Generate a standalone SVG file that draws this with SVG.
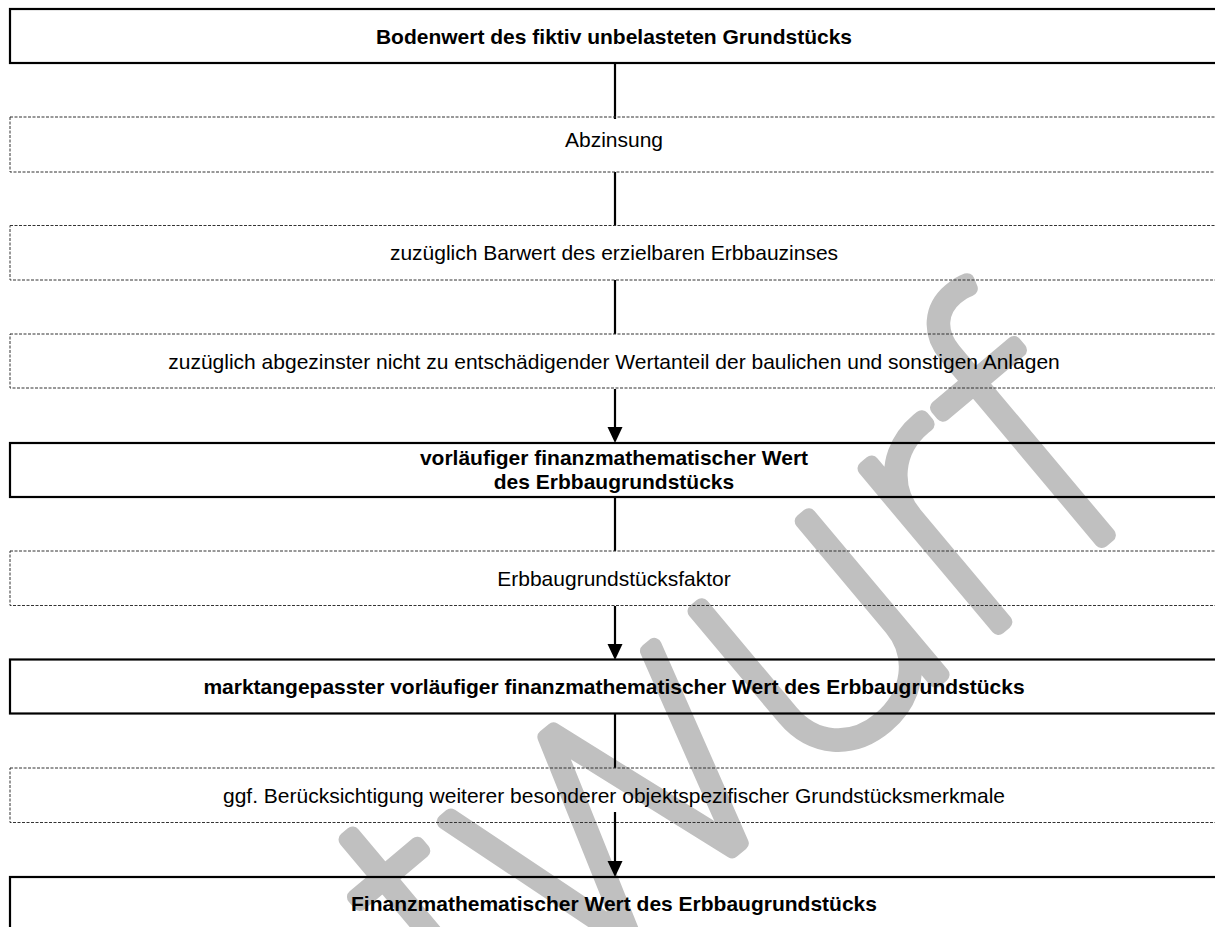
<svg xmlns="http://www.w3.org/2000/svg" width="1215" height="927" viewBox="0 0 1215 927">
<style>
.solid{fill:none;stroke:#000;stroke-width:2.2}
.dash{fill:none;stroke:#333;stroke-width:1;stroke-dasharray:3 1.5}
.tb{font-family:"Liberation Sans",Arial,sans-serif;font-size:21px;font-weight:bold;fill:#000;text-anchor:middle}
.tr{font-family:"Liberation Sans",Arial,sans-serif;font-size:21px;fill:#000;text-anchor:middle}
.conn{stroke:#000;stroke-width:2.2;fill:none}
.wm{font-family:Inter,"DejaVu Sans",sans-serif;font-weight:100;font-size:380px;fill:#c0c0c0;stroke:#c0c0c0;stroke-width:15;stroke-linejoin:round;stroke-linecap:round}
</style>
<defs>
<marker id="ah" markerUnits="userSpaceOnUse" markerWidth="16" markerHeight="16" viewBox="0 0 16 16" refX="0" refY="8" orient="auto">
<path d="M0,0.5 L16,8 L0,15.5 z" fill="#000"/>
</marker>
</defs>
<rect width="1215" height="927" fill="#fff"/>
<g id="watermark">
<text class="wm" x="1155" y="496" text-anchor="end" transform="rotate(-40 1155 496)">Entwurf</text>
</g>
<g id="connectors">
<line class="conn" x1="615" y1="63" x2="615" y2="119"/>
<line class="conn" x1="615" y1="172" x2="615" y2="226"/>
<line class="conn" x1="615" y1="280" x2="615" y2="334"/>
<line class="conn" x1="615" y1="389" x2="615" y2="427" marker-end="url(#ah)"/>
<line class="conn" x1="615" y1="497" x2="615" y2="551"/>
<line class="conn" x1="615" y1="606" x2="615" y2="644" marker-end="url(#ah)"/>
<line class="conn" x1="615" y1="714" x2="615" y2="768"/>
<line class="conn" x1="615" y1="812" x2="615" y2="861" marker-end="url(#ah)"/>
</g>
<g id="n1"><rect class="solid" x="10" y="9" width="1220" height="54"/><text class="tb" x="614" y="44">Bodenwert des fiktiv unbelasteten Grundstücks</text></g>
<g id="n2"><rect class="dash" x="10" y="117" width="1220" height="55"/><text class="tr" x="614" y="147">Abzinsung</text></g>
<g id="n3"><rect class="dash" x="10" y="225.5" width="1220" height="54.5"/><text class="tr" x="614" y="260">zuzüglich Barwert des erzielbaren Erbbauzinses</text></g>
<g id="n4"><rect class="dash" x="10" y="334" width="1220" height="54"/><text class="tr" x="614" y="368.5">zuzüglich abgezinster nicht zu entschädigender Wertanteil der baulichen und sonstigen Anlagen</text></g>
<g id="n5"><rect class="solid" x="10" y="443" width="1220" height="54"/><text class="tb" x="614" y="464.5">vorläufiger finanzmathematischer Wert</text><text class="tb" x="614" y="488.5">des Erbbaugrundstücks</text></g>
<g id="n6"><rect class="dash" x="10" y="551" width="1220" height="54.5"/><text class="tr" x="614" y="585.5">Erbbaugrundstücksfaktor</text></g>
<g id="n7"><rect class="solid" x="10" y="659.5" width="1220" height="54"/><text class="tb" x="614" y="694">marktangepasster vorläufiger finanzmathematischer Wert des Erbbaugrundstücks</text></g>
<g id="n8"><rect class="dash" x="10" y="768" width="1220" height="54.5"/><text class="tr" x="614" y="802.5">ggf. Berücksichtigung weiterer besonderer objektspezifischer Grundstücksmerkmale</text></g>
<g id="n9"><rect class="solid" x="10" y="877" width="1220" height="60"/><text class="tb" x="614" y="911">Finanzmathematischer Wert des Erbbaugrundstücks</text></g>
</svg>
